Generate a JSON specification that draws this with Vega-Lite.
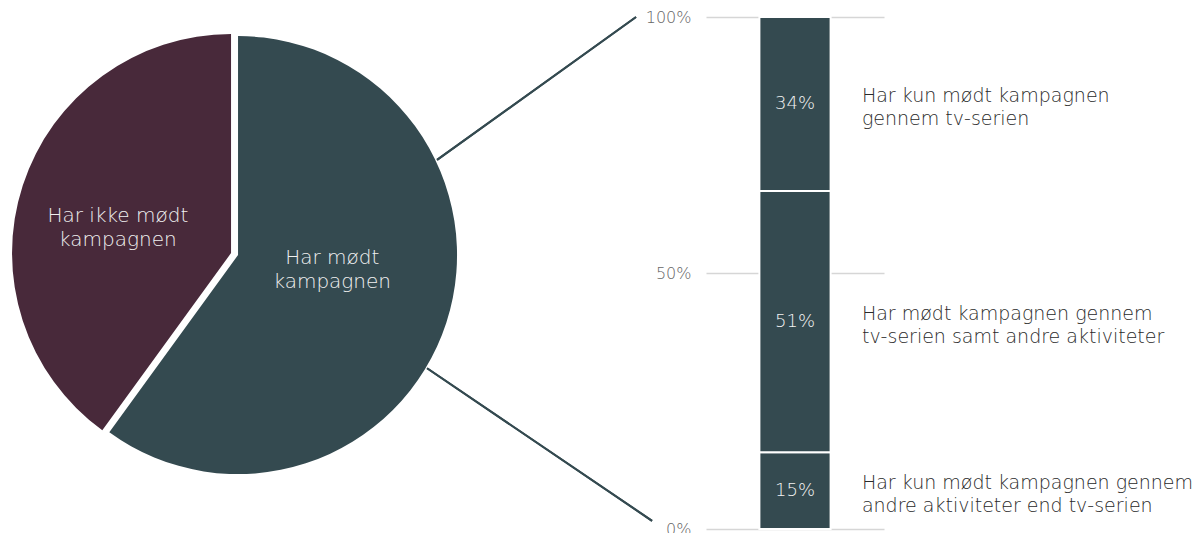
{
  "$schema": "https://vega.github.io/schema/vega-lite/v6.json",
  "width": 178,
  "height": 512,
  "autosize": "none",
  "padding": {"left": 706, "top": 17, "right": 315, "bottom": 4},
  "background": "white",
  "config": {"view": {"stroke": null}, "font": "DejaVu Sans"},
  "datasets": {
    "pie": [
      {"idx": 1, "group": "Har mødt kampagnen", "share": 60, "label": "Har mødt\nkampagnen"},
      {"idx": 2, "group": "Har ikke mødt kampagnen", "share": 40, "label": "Har ikke mødt\nkampagnen"}
    ],
    "bar": [
      {"idx": 1, "value": 0.15, "label": "Har kun mødt kampagnen gennem\nandre aktiviteter end tv-serien"},
      {"idx": 2, "value": 0.51, "label": "Har mødt kampagnen gennem\ntv-serien samt andre aktiviteter"},
      {"idx": 3, "value": 0.34, "label": "Har kun mødt kampagnen\ngennem tv-serien"}
    ]
  },
  "layer": [
    {
      "data": {"name": "bar"},
      "transform": [{"stack": "value", "groupby": [], "sort": [{"field": "idx", "order": "ascending"}], "as": ["v0", "v1"]}],
      "mark": {"type": "rect", "color": "#344a50", "stroke": "white", "strokeWidth": 2},
      "encoding": {
        "x": {"datum": 0.3, "type": "quantitative", "scale": {"domain": [0, 1]}, "axis": null},
        "x2": {"datum": 0.7},
        "y": {"field": "v0", "type": "quantitative", "scale": {"domain": [0, 1]},
          "axis": {"values": [0, 0.5, 1], "format": ".0%", "title": null, "domain": false, "ticks": false,
            "grid": true, "gridColor": "#d6d6d6", "gridWidth": 1.5, "labelPadding": 15, "labelFontSize": 16,
            "labelColor": "#666666", "labelFont": "DejaVu Sans", "labelFontWeight": 200}},
        "y2": {"field": "v1"}
      }
    },
    {
      "data": {"name": "bar"},
      "mark": {"type": "text", "fill": "#f2f2f2", "fontSize": 18, "fontWeight": 200, "baseline": "middle"},
      "encoding": {
        "x": {"datum": 0.5, "type": "quantitative", "scale": {"domain": [0, 1]}},
        "y": {"field": "value", "type": "quantitative", "stack": "zero", "bandPosition": 0.5, "scale": {"domain": [0, 1]}},
        "order": {"field": "idx"},
        "text": {"field": "value", "type": "quantitative", "format": ".0%"}
      }
    },
    {
      "data": {"name": "bar"},
      "mark": {"type": "text", "fill": "#2a2a2a", "fontSize": 19, "fontWeight": 200, "align": "left", "baseline": "middle", "lineBreak": "\n", "lineHeight": 23, "dy": -8},
      "encoding": {
        "x": {"datum": 0.876, "type": "quantitative", "scale": {"domain": [0, 1]}},
        "y": {"field": "value", "type": "quantitative", "stack": "zero", "bandPosition": 0.5, "scale": {"domain": [0, 1]}},
        "order": {"field": "idx"},
        "text": {"field": "label"}
      }
    },
    {
      "data": {"name": "pie"},
      "mark": {"type": "rule", "color": "#344a50", "strokeWidth": 2},
      "encoding": {
        "x": {"datum": -1.511, "type": "quantitative", "scale": {"domain": [0, 1]}},
        "y": {"datum": 0.721, "type": "quantitative", "scale": {"domain": [0, 1]}},
        "x2": {"datum": -0.393},
        "y2": {"datum": 1.0}
      }
    },
    {
      "data": {"name": "pie"},
      "mark": {"type": "rule", "color": "#344a50", "strokeWidth": 2},
      "encoding": {
        "x": {"datum": -1.567, "type": "quantitative", "scale": {"domain": [0, 1]}},
        "y": {"datum": 0.314, "type": "quantitative", "scale": {"domain": [0, 1]}},
        "x2": {"datum": -0.303},
        "y2": {"datum": 0.016}
      }
    },
    {
      "data": {"name": "pie"},
      "mark": {"type": "arc", "radius": 219},
      "encoding": {
        "x": {"datum": -2.629, "type": "quantitative", "scale": {"domain": [0, 1]}},
        "y": {"datum": 0.535, "type": "quantitative", "scale": {"domain": [0, 1]}},
        "theta": {"field": "share", "type": "quantitative", "stack": true},
        "order": {"field": "idx"},
        "color": {"field": "group", "type": "nominal", "legend": null,
          "scale": {"domain": ["Har mødt kampagnen", "Har ikke mødt kampagnen"], "range": ["#344a50", "#48293a"]}},
        "opacity": {"condition": {"test": "datum.idx === 1", "value": 1}, "value": 0}
      }
    },
    {
      "data": {"name": "pie"},
      "mark": {"type": "arc", "radius": 219, "xOffset": -7, "yOffset": -2},
      "encoding": {
        "x": {"datum": -2.629, "type": "quantitative", "scale": {"domain": [0, 1]}},
        "y": {"datum": 0.535, "type": "quantitative", "scale": {"domain": [0, 1]}},
        "theta": {"field": "share", "type": "quantitative", "stack": true},
        "order": {"field": "idx"},
        "color": {"field": "group", "type": "nominal", "legend": null,
          "scale": {"domain": ["Har mødt kampagnen", "Har ikke mødt kampagnen"], "range": ["#344a50", "#48293a"]}},
        "opacity": {"condition": {"test": "datum.idx === 2", "value": 1}, "value": 0}
      }
    },
    {
      "data": {"name": "pie"},
      "mark": {"type": "text", "radius": 99, "dy": -28, "fill": "#f0f0f0", "fontSize": 20, "fontWeight": 200, "lineBreak": "\n", "lineHeight": 24, "baseline": "middle"},
      "encoding": {
        "x": {"datum": -2.629, "type": "quantitative", "scale": {"domain": [0, 1]}},
        "y": {"datum": 0.535, "type": "quantitative", "scale": {"domain": [0, 1]}},
        "theta": {"field": "share", "type": "quantitative", "stack": true},
        "order": {"field": "idx"},
        "text": {"field": "label"},
        "opacity": {"condition": {"test": "datum.idx === 1", "value": 1}, "value": 0}
      }
    },
    {
      "data": {"name": "pie"},
      "mark": {"type": "text", "radius": 119, "dy": 0, "xOffset": -7, "yOffset": -2, "fill": "#f0f0f0", "fontSize": 20, "fontWeight": 200, "lineBreak": "\n", "lineHeight": 24, "baseline": "middle"},
      "encoding": {
        "x": {"datum": -2.629, "type": "quantitative", "scale": {"domain": [0, 1]}},
        "y": {"datum": 0.535, "type": "quantitative", "scale": {"domain": [0, 1]}},
        "theta": {"field": "share", "type": "quantitative", "stack": true},
        "order": {"field": "idx"},
        "text": {"field": "label"},
        "opacity": {"condition": {"test": "datum.idx === 2", "value": 1}, "value": 0}
      }
    }
  ]
}
